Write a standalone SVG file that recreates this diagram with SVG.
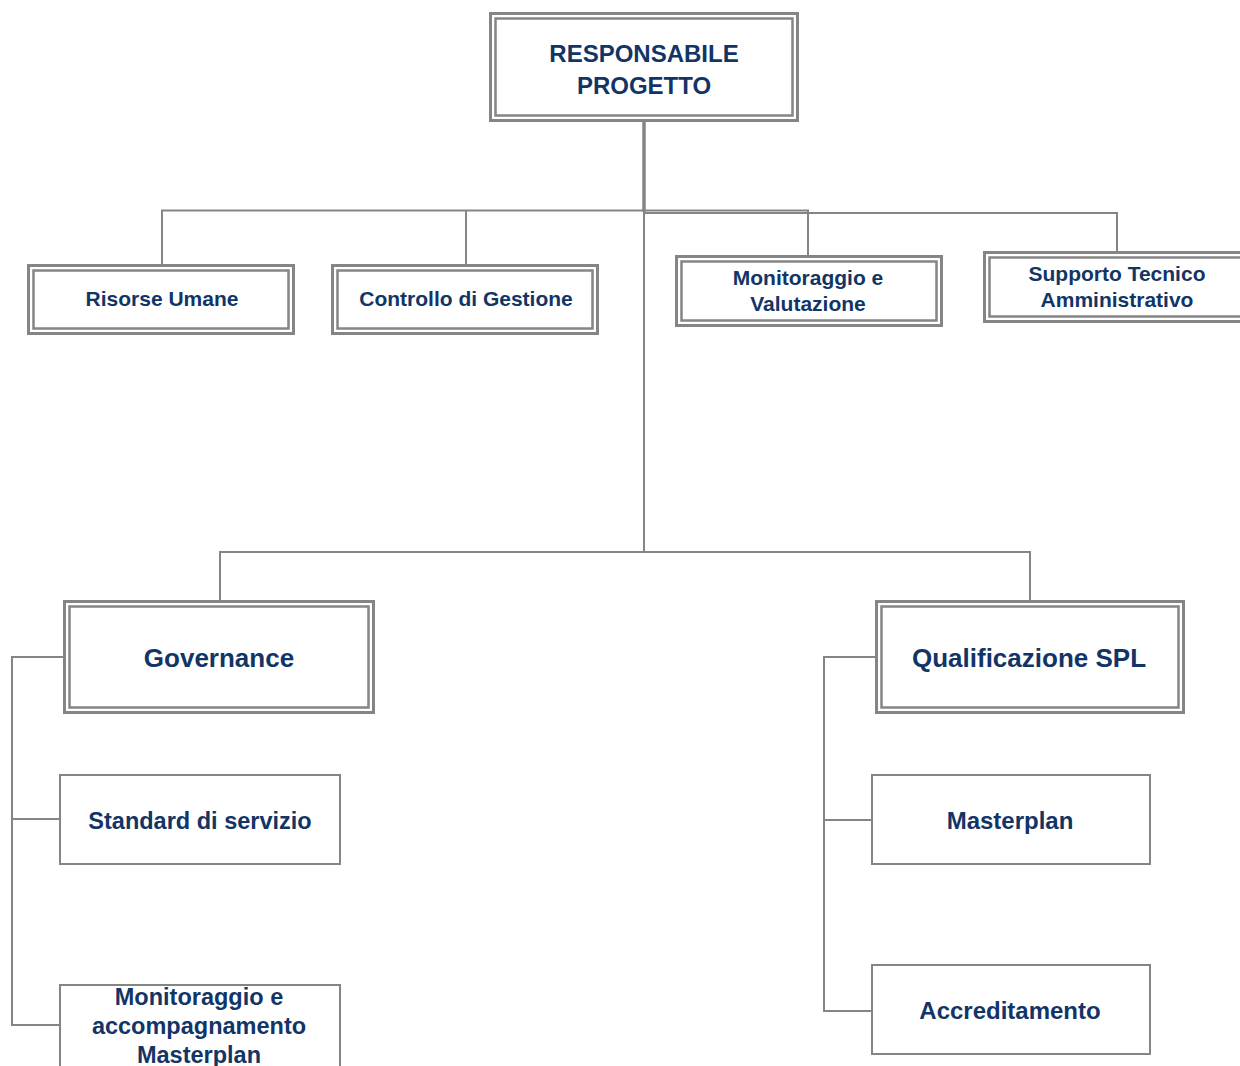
<svg xmlns="http://www.w3.org/2000/svg" width="1240" height="1066" viewBox="0 0 1240 1066">
<style>
.bg{fill:#ffffff}
.o{fill:#ffffff;stroke:#858585;stroke-width:3}
.i{fill:none;stroke:#858585;stroke-width:2.5}
.s{fill:#ffffff;stroke:#858585;stroke-width:2}
.c{fill:none;stroke:#858585;stroke-width:2}
.t{font-family:"Liberation Sans",Arial,sans-serif;font-weight:bold;fill:#123566;text-anchor:middle}
</style>
<rect class="bg" x="0" y="0" width="1240" height="1066"/>
<g id="connectors">
<path class="c" d="M644,121 V552" />
<path class="c" d="M644,121 V212" style="stroke-width:3.5"/>
<path class="c" d="M162,266 V210.5 H644"/>
<path class="c" d="M466,266 V210.5"/>
<path class="c" d="M644,210.5 H808 V258"/>
<path class="c" d="M644,213 H1117 V254"/>
<path class="c" d="M220,603 V552 H1030 V603"/>
<path class="c" d="M66,657 H12 V1025 H60"/>
<path class="c" d="M12,819 H60"/>
<path class="c" d="M878,657 H824 V1011 H872"/>
<path class="c" d="M824,820 H872"/>
</g>
<g id="responsabile">
<rect class="o" x="490.5" y="13.5" width="307" height="107"/>
<rect class="i" x="495.5" y="18.5" width="297" height="97"/>
<text class="t" x="644" y="62" font-size="24">RESPONSABILE</text>
<text class="t" x="644" y="94" font-size="24">PROGETTO</text>
</g>
<g id="risorse">
<rect class="o" x="28.5" y="265.5" width="265" height="68"/>
<rect class="i" x="33.5" y="270.5" width="255" height="58"/>
<text class="t" x="162" y="306" font-size="21">Risorse Umane</text>
</g>
<g id="controllo">
<rect class="o" x="332.5" y="265.5" width="265" height="68"/>
<rect class="i" x="337.5" y="270.5" width="255" height="58"/>
<text class="t" x="466" y="306" font-size="21">Controllo di Gestione</text>
</g>
<g id="monitoraggio-valutazione">
<rect class="o" x="676.5" y="256.5" width="265" height="69"/>
<rect class="i" x="681.5" y="261.5" width="255" height="59"/>
<text class="t" x="808" y="285" font-size="21">Monitoraggio e</text>
<text class="t" x="808" y="311" font-size="21">Valutazione</text>
</g>
<g id="supporto">
<rect class="o" x="984.5" y="252.5" width="270" height="69"/>
<rect class="i" x="989.5" y="257.5" width="260" height="59"/>
<text class="t" x="1117" y="281" font-size="21">Supporto Tecnico</text>
<text class="t" x="1117" y="307" font-size="21">Amministrativo</text>
</g>
<g id="governance">
<rect class="o" x="64.5" y="601.5" width="309" height="111"/>
<rect class="i" x="69.5" y="606.5" width="299" height="101"/>
<text class="t" x="219" y="667" font-size="26">Governance</text>
</g>
<g id="qualificazione">
<rect class="o" x="876.5" y="601.5" width="307" height="111"/>
<rect class="i" x="881.5" y="606.5" width="297" height="101"/>
<text class="t" x="1029" y="667" font-size="26">Qualificazione SPL</text>
</g>
<g id="standard">
<rect class="s" x="60" y="775" width="280" height="89"/>
<text class="t" x="200" y="829" font-size="23.5">Standard di servizio</text>
</g>
<g id="monitoraggio-masterplan">
<rect class="s" x="60" y="985" width="280" height="90"/>
<text class="t" x="199" y="1005" font-size="23.5">Monitoraggio e</text>
<text class="t" x="199" y="1034" font-size="23.5">accompagnamento</text>
<text class="t" x="199" y="1063" font-size="23.5">Masterplan</text>
</g>
<g id="masterplan">
<rect class="s" x="872" y="775" width="278" height="89"/>
<text class="t" x="1010" y="829" font-size="24">Masterplan</text>
</g>
<g id="accreditamento">
<rect class="s" x="872" y="965" width="278" height="89"/>
<text class="t" x="1010" y="1019" font-size="24">Accreditamento</text>
</g>
</svg>
